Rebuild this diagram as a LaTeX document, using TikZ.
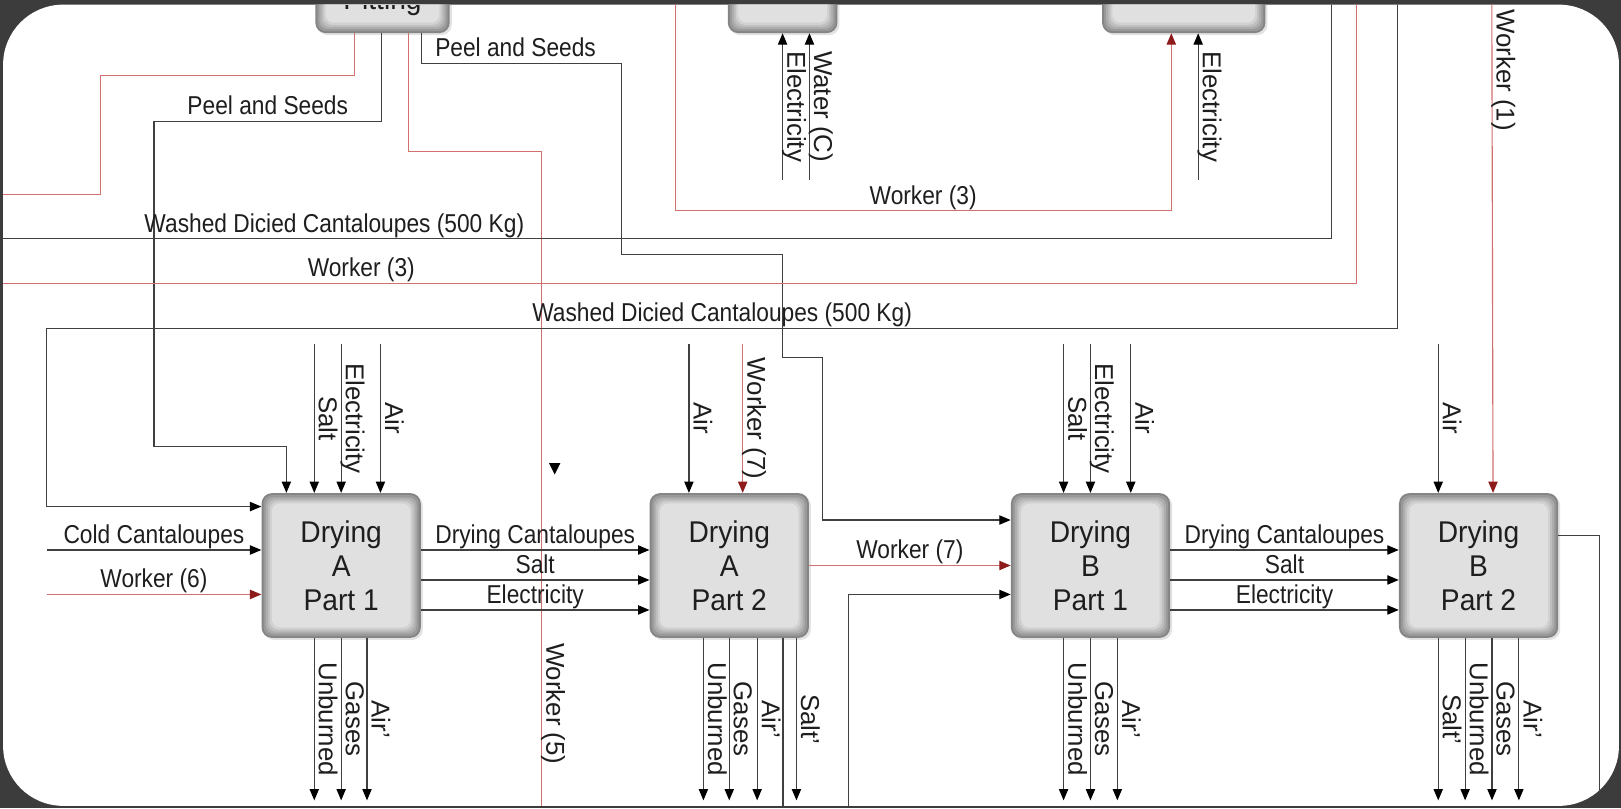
\documentclass[tikz,border=0pt]{standalone}
\usepackage{fontspec}
\setmainfont{Liberation Sans}
\newfontfamily\hfont[FakeStretch=0.88]{Liberation Sans}
\newfontfamily\bfont[FakeStretch=0.94]{Liberation Sans}
\usetikzlibrary{positioning,arrows.meta,shadows}
\definecolor{frame}{HTML}{3C3C3C}
\definecolor{lnk}{HTML}{404040}
\definecolor{wline}{HTML}{D27070}
\definecolor{wtip}{HTML}{8E1B1B}
\definecolor{ink}{HTML}{1E1E1E}

\begin{document}
\begin{tikzpicture}[x=1pt,y=-1pt,
proc/.style={rounded corners=10pt,minimum width=154pt,minimum height=140pt,inner sep=0pt,align=center,text=ink,font=\bfont\fontsize{29}{33}\selectfont,fill=black!48,drop shadow={shadow xshift=2pt,shadow yshift=-2pt,opacity=.22},path picture={\foreach \d/\c in {2/40,4/32,6/25,8/18,10/12}{\fill[black!\c,rounded corners=8pt] ([shift={(\d pt,\d pt)}]path picture bounding box.south west) rectangle ([shift={(-\d pt,-\d pt)}]path picture bounding box.north east);}}},
link/.style={draw=lnk,line width=1.1pt},
flow/.style={link,-{Triangle[length=11pt,width=9pt,color=black]}},
wlink/.style={draw=wline,line width=1.1pt},
wflow/.style={wlink,-{Triangle[length=11pt,width=9pt,color=wtip]}},
lbl/.style={font=\hfont\fontsize{25}{30}\selectfont,text=ink,anchor=south,inner sep=1pt,text depth=5pt},
vlbl/.style={font=\fontsize{25}{30}\selectfont,text=ink,rotate=-90,anchor=south,inner sep=1pt,text depth=3pt}]
\useasboundingbox (0,0) rectangle (1568,782);
\fill[frame] (0,0) rectangle (1568,782);
\fill[white,rounded corners=58pt] (3,4.5) rectangle (1566,779.5);
\begin{scope}
\clip[rounded corners=58pt] (3,4.5) rectangle (1566,779.5);
% process boxes
\node[proc] (a1) at (330,547) {Drying\\A\\Part 1};
\node[proc,right=221pt of a1] (a2) {Drying\\A\\Part 2};
\node[proc,right=195pt of a2] (b1) {Drying\\B\\Part 1};
\node[proc,right=221pt of b1] (b2) {Drying\\B\\Part 2};
\node[proc,minimum width=130pt,minimum height=60pt] (pit) at (370,2) {Pitting};
\node[proc,minimum width=106pt,minimum height=60pt] (wash) at (757,2) {};
\node[proc,minimum width=158pt,minimum height=60pt] (dice) at (1145,2) {};
% free ends
\coordinate (w3top) at (653,-10);
\coordinate (wdc1) at (1288,-10);
\coordinate (w3low) at (1312,-10);
\coordinate (wdc2) at (1352,-10);
\coordinate (w1) at (1443,-10);
\coordinate (cc) at (45,532);
\coordinate (w6) at (45,575);
\coordinate (b1in) at (821,795);
% from pitting
\draw[wlink] ([xshift=-27pt]pit.south) -- ++(0,41) -- ++(-246,0) -- ++(0,115) -- ++(-110,0);
\draw[flow] ([xshift=-1pt]pit.south) -- ++(0,85) -- node[lbl]{Peel and Seeds} ++(-220,0) -- ++(0,315) -| ([xshift=-53pt]a1.north);
\draw[wlink] ([xshift=25pt]pit.south) -- ++(0,114) -- ++(129,0) -- node[vlbl,pos=.81]{Worker (5)} ++(0,660);
\draw[flow] ([xshift=38pt]pit.south) -- ++(0,29) -- node[lbl,pos=.47]{Peel and Seeds} ++(193,0) -- ++(0,185) -- ++(156,0) -- ++(0,100) -- ++(39,0) |- ([yshift=44pt]b1.west);
\fill[black] (531,448) -- (542,448) -- (536.5,459) -- cycle;
% upper boxes
\draw[wflow] (w3top) -- ++(0,214) -- node[lbl]{Worker (3)} ++(480,0) -- ([xshift=-12pt]dice.south);
\draw[flow] ([yshift=-142pt]wash.south) -- node[vlbl]{Electricity} (wash.south);
\draw[flow] ([xshift=26pt,yshift=-142pt]wash.south) -- node[vlbl]{Water (C)} ([xshift=26pt]wash.south);
\draw[flow] ([xshift=14pt,yshift=-142pt]dice.south) -- node[vlbl]{Electricity} ([xshift=14pt]dice.south);
\draw[link] (wdc1) -- ++(0,241) -- node[lbl,pos=.742]{Washed Dicied Cantaloupes (500 Kg)} ++(-1300,0);
\draw[wlink] (w3low) -- ++(0,284) -- node[lbl,pos=.727]{Worker (3)} ++(-1324,0);
\draw[flow] (wdc2) -- ++(0,328) -- node[lbl]{Washed Dicied Cantaloupes (500 Kg)} ++(-1307,0) |- ([yshift=57pt]a1.west);
\draw[wflow] (w1) -- node[vlbl,pos=.16]{Worker (1)} ([xshift=14pt]b2.north);
% drying A part 1
\draw[flow] (cc) -- node[lbl]{Cold Cantaloupes} ([yshift=15pt]a1.west);
\draw[wflow] (w6) -- node[lbl]{Worker (6)} ([yshift=-28pt]a1.west);
\draw[flow] ([xshift=-26pt,yshift=144pt]a1.north) -- node[vlbl]{Salt} ([xshift=-26pt]a1.north);
\draw[flow] ([yshift=144pt]a1.north) -- node[vlbl]{Electricity} (a1.north);
\draw[flow] ([xshift=38pt,yshift=144pt]a1.north) -- node[vlbl]{Air} ([xshift=38pt]a1.north);
\draw[flow] ([xshift=-26pt]a1.south) -- node[vlbl]{Unburned} ++(0,157);
\draw[flow] (a1.south) -- node[vlbl]{Gases} ++(0,157);
\draw[flow] ([xshift=25pt]a1.south) -- node[vlbl]{Air'} ++(0,157);
\draw[flow] ([yshift=15pt]a1.east) -- node[lbl]{Drying Cantaloupes} ([yshift=15pt]a2.west);
\draw[flow] ([yshift=-14pt]a1.east) -- node[lbl]{Salt} ([yshift=-14pt]a2.west);
\draw[flow] ([yshift=-43pt]a1.east) -- node[lbl]{Electricity} ([yshift=-43pt]a2.west);
% drying A part 2
\draw[flow] ([xshift=-39pt,yshift=144pt]a2.north) -- node[vlbl]{Air} ([xshift=-39pt]a2.north);
\draw[wflow] ([xshift=13pt,yshift=144pt]a2.north) -- node[vlbl]{Worker (7)} ([xshift=13pt]a2.north);
\draw[flow] ([xshift=-25pt]a2.south) -- node[vlbl]{Unburned} ++(0,157);
\draw[flow] (a2.south) -- node[vlbl]{Gases} ++(0,157);
\draw[flow] ([xshift=27pt]a2.south) -- node[vlbl]{Air'} ++(0,157);
\draw[link] ([xshift=52pt]a2.south) -- ++(0,180);
\draw[flow] ([xshift=65pt]a2.south) -- node[vlbl]{Salt'} ++(0,157);
\draw[wflow] (a2.east) -- node[lbl]{Worker (7)} (b1.west);
\draw[flow] (b1in) |- ([yshift=-28pt]b1.west);
% drying B part 1
\draw[flow] ([xshift=-26pt,yshift=144pt]b1.north) -- node[vlbl]{Salt} ([xshift=-26pt]b1.north);
\draw[flow] ([yshift=144pt]b1.north) -- node[vlbl]{Electricity} (b1.north);
\draw[flow] ([xshift=39pt,yshift=144pt]b1.north) -- node[vlbl]{Air} ([xshift=39pt]b1.north);
\draw[flow] ([xshift=-26pt]b1.south) -- node[vlbl]{Unburned} ++(0,157);
\draw[flow] (b1.south) -- node[vlbl]{Gases} ++(0,157);
\draw[flow] ([xshift=26pt]b1.south) -- node[vlbl]{Air'} ++(0,157);
\draw[flow] ([yshift=15pt]b1.east) -- node[lbl]{Drying Cantaloupes} ([yshift=15pt]b2.west);
\draw[flow] ([yshift=-14pt]b1.east) -- node[lbl]{Salt} ([yshift=-14pt]b2.west);
\draw[flow] ([yshift=-43pt]b1.east) -- node[lbl]{Electricity} ([yshift=-43pt]b2.west);
% drying B part 2
\draw[flow] ([xshift=-39pt,yshift=144pt]b2.north) -- node[vlbl]{Air} ([xshift=-39pt]b2.north);
\draw[flow] ([xshift=-39pt]b2.south) -- node[vlbl]{Salt'} ++(0,157);
\draw[flow] ([xshift=-13pt]b2.south) -- node[vlbl]{Unburned} ++(0,157);
\draw[flow] ([xshift=13pt]b2.south) -- node[vlbl]{Gases} ++(0,157);
\draw[flow] ([xshift=39pt]b2.south) -- node[vlbl]{Air'} ++(0,157);
\draw[link] ([yshift=29pt]b2.east) -| ++(40,280);
\end{scope}
\end{tikzpicture}
\end{document}
